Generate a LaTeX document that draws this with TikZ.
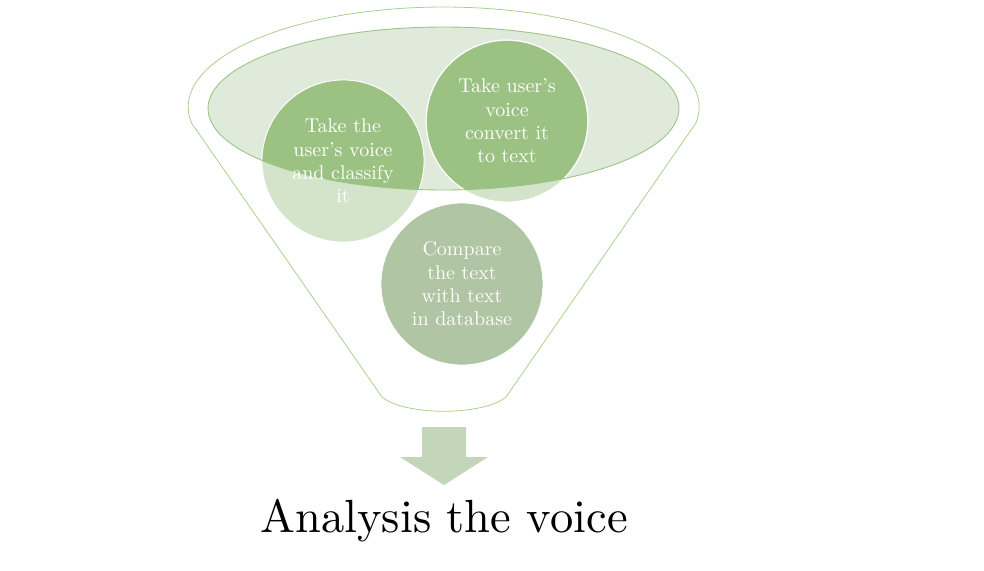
\documentclass[tikz,border=0pt]{standalone}
\usepackage{fontspec}
\setmainfont{lmroman10-regular.otf}
\usepackage{tikz}
\definecolor{funnelline}{HTML}{A9D18E}
\definecolor{ellfill}{HTML}{E0EADB}
\definecolor{ellline}{HTML}{9CC586}
\definecolor{circlight}{HTML}{D3E4CB}
\definecolor{circdark}{HTML}{9BC283}
\definecolor{circgray}{HTML}{AFC5A3}
\definecolor{arrowfill}{HTML}{C3D6BA}
\tikzset{
  bubble/.style={circle, minimum size=162pt, inner sep=0pt, draw=white, line width=0.8pt,
    text=white, align=center, font=\fontsize{20}{23.3}\selectfont},
  bubbletext/.style={circle, minimum size=162pt, inner sep=0pt,
    text=white, align=center, font=\fontsize{20}{23.3}\selectfont},
}
\begin{document}
\begin{tikzpicture}[x=1pt,y=1pt]
\useasboundingbox (0,0) rectangle (984,-570);
% funnel outline
\draw[funnelline, line width=0.8pt]
  (382,-397) -- (191.5,-123)
  arc[start angle=189.2, end angle=-9.2, x radius=255.5, y radius=100]
  -- (506,-397) .. controls (483,-416) and (405,-416) .. (382,-397) -- cycle;
% inner ellipse fill
\fill[ellfill] (443.5,-108.5) ellipse[x radius=235.5, y radius=81.5];
% circles (light)
\node[bubble, fill=circlight] (c1) at (343,-161) {};
\node[bubble, fill=circlight] (c2) at (507,-121) {};
\node[bubble, fill=circgray] (c3) at (462,-284) {};
% darker parts inside ellipse
\begin{scope}
  \clip (443.5,-108.5) ellipse[x radius=235.5, y radius=81.5];
  \fill[circdark] (c1.center) circle[radius=81pt];
  \fill[circdark] (c2.center) circle[radius=80pt];
  \draw[white, line width=0.8pt] (c1.center) circle[radius=81pt];
  \draw[white, line width=0.8pt] (c2.center) circle[radius=81pt];
\end{scope}
% ellipse border
\draw[ellline, line width=0.9pt] (443.5,-108.5) ellipse[x radius=235.5, y radius=81.5];
% texts
\node[bubbletext] (t1) at (c1.center) {Take the\\user’s voice\\and classify\\it};
\node[bubbletext] (t2) at (c2.center) {Take user’s\\voice\\convert it\\to text};
\node[bubbletext] (t3) at (c3.center) {Compare\\the text\\with text\\in database};
% down arrow
\fill[arrowfill] (422,-427) -- (466,-427) -- (466,-457) -- (488,-457) -- (444,-485)
  -- (400,-457) -- (422,-457) -- cycle;
% result label
\node[font=\fontsize{46.5}{52}\selectfont, anchor=base] (res) at (444,-532) {Analysis the voice};
\end{tikzpicture}
\end{document}
